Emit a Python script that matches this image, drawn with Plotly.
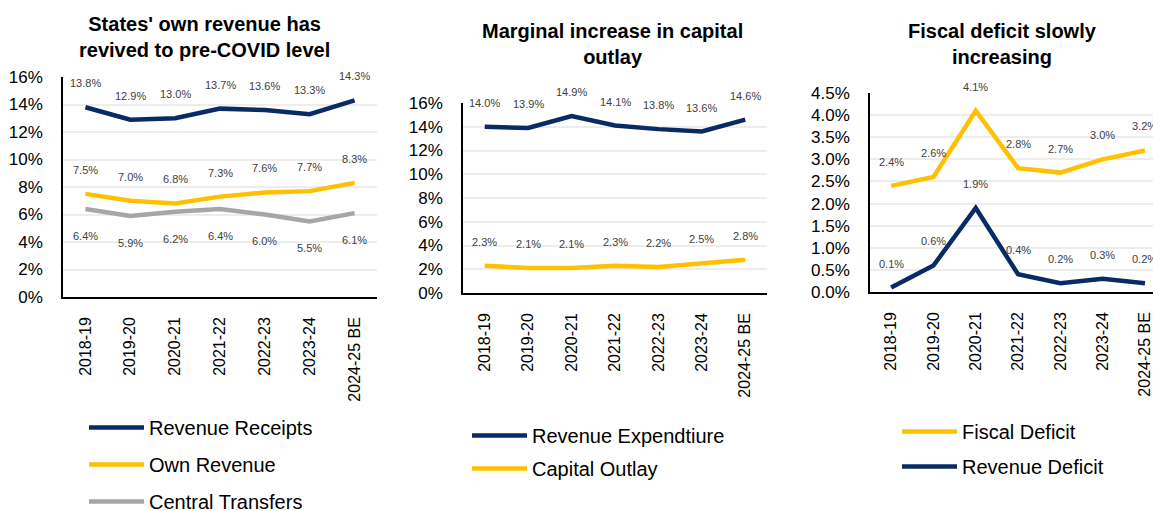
import plotly.graph_objects as go

years = ["2018-19", "2019-20", "2020-21", "2021-22", "2022-23", "2023-24", "2024-25 BE"]

# Panel 1 (% of GSDP)
revenue_receipts = [13.8, 12.9, 13.0, 13.7, 13.6, 13.3, 14.3]
own_revenue = [7.5, 7.0, 6.8, 7.3, 7.6, 7.7, 8.3]
central_transfers = [6.4, 5.9, 6.2, 6.4, 6.0, 5.5, 6.1]

# Panel 2
revenue_expenditure = [14.0, 13.9, 14.9, 14.1, 13.8, 13.6, 14.6]
capital_outlay = [2.3, 2.1, 2.1, 2.3, 2.2, 2.5, 2.8]

# Panel 3
fiscal_deficit = [2.4, 2.6, 4.1, 2.8, 2.7, 3.0, 3.2]
revenue_deficit = [0.1, 0.6, 1.9, 0.4, 0.2, 0.3, 0.2]

titles = [
    "States' own revenue has<br>revived to pre-COVID level",
    "Marginal increase in capital<br>outlay",
    "Fiscal deficit slowly<br>increasing",
]

NAVY = "#0A2A66"
GOLD = "#FFC000"
GREY = "#A6A6A6"
FONT = "Liberation Sans, Arial, sans-serif"
LABEL_COLOR = "#404040"

W, H = 1153, 511

fig = go.Figure()

panels = [
    ("x", "y", "legend", [
        ("Revenue Receipts", revenue_receipts, NAVY, "above"),
        ("Own Revenue", own_revenue, GOLD, "above"),
        ("Central Transfers", central_transfers, GREY, "below"),
    ]),
    ("x2", "y2", "legend2", [
        ("Revenue Expendtiure", revenue_expenditure, NAVY, "above"),
        ("Capital Outlay", capital_outlay, GOLD, "above"),
    ]),
    ("x3", "y3", "legend3", [
        ("Fiscal Deficit", fiscal_deficit, GOLD, "above"),
        ("Revenue Deficit", revenue_deficit, NAVY, "above"),
    ]),
]

annotations = []
for xa, ya, lg, series in panels:
    for name, vals, color, pos in series:
        fig.add_trace(go.Scatter(
            x=years, y=vals, name=name, mode="lines",
            line=dict(color=color, width=4.5),
            xaxis=xa, yaxis=ya, legend=lg, legendgroup=name,
            hoverinfo="skip",
        ))
        for yr, v in zip(years, vals):
            annotations.append(dict(
                x=yr, y=v, xref=xa, yref=ya, text=f"{v:.1f}%",
                showarrow=False, yshift=24 if pos == "above" else -27,
                font=dict(family=FONT, size=11, color=LABEL_COLOR),
            ))

def px_x(p):
    return p / W

def px_y(p):
    return 1 - p / H

axis_common = dict(
    showline=True, linecolor="black", linewidth=1.5,
    ticks="", showgrid=False, zeroline=False, automargin=False,
    ticklabeloverflow="allow",
    tickfont=dict(family=FONT, size=16, color="black"),
)
yaxis_common = dict(
    showline=True, linecolor="black", linewidth=1.5,
    ticks="", showgrid=True, gridcolor="#EDEDED", gridwidth=2,
    zeroline=False, automargin=False, ticklabeloverflow="allow",
    tickfont=dict(family=FONT, size=17, color="black"),
    ticksuffix="%", ticklabelstandoff=15,
)

layout = dict(
    width=W, height=H,
    margin=dict(l=0, r=0, t=0, b=0, autoexpand=False),
    paper_bgcolor="white", plot_bgcolor="white",
    showlegend=True,
    font=dict(family=FONT, color="black"),
    xaxis=dict(**axis_common, domain=[px_x(63), px_x(377)], anchor="y",
               tickangle=-90, range=[-0.5, 6.5], ticklabelstandoff=12),
    yaxis=dict(**yaxis_common, domain=[px_y(297), px_y(77)], anchor="x",
               range=[0, 16], dtick=2, tickformat=".0f"),
    xaxis2=dict(**axis_common, domain=[px_x(463), px_x(767)], anchor="y2",
                tickangle=-90, range=[-0.5, 6.5], ticklabelstandoff=12),
    yaxis2=dict(**yaxis_common, domain=[px_y(293), px_y(103)], anchor="x2",
                range=[0, 16], dtick=2, tickformat=".0f"),
    xaxis3=dict(**axis_common, domain=[px_x(870), 1.0], anchor="y3",
                tickangle=-90, range=[-0.5, 6.19], ticklabelstandoff=12),
    yaxis3=dict(**yaxis_common, domain=[px_y(292), px_y(93)], anchor="x3",
                range=[0, 4.5], dtick=0.5, tickformat=".1f"),
)

legend_common = dict(
    font=dict(family=FONT, size=20, color="black"),
    bgcolor="rgba(0,0,0,0)", xanchor="left", yanchor="top",
    itemclick=False, itemdoubleclick=False, itemwidth=55,
)
layout["legend"] = dict(**legend_common, x=px_x(109 - 25), y=px_y(408), tracegroupgap=8)
layout["legend2"] = dict(**legend_common, x=px_x(492 - 25), y=px_y(416), tracegroupgap=4)
layout["legend3"] = dict(**legend_common, x=px_x(922 - 25), y=px_y(412), tracegroupgap=6)

title_y = [(205, 23), (613, 30), (1002, 30)]
for (cx, cy), t in zip(title_y, titles):
    annotations.append(dict(
        x=px_x(cx), y=px_y(cy - 12), xref="paper", yref="paper",
        xanchor="center", yanchor="top", text=f"<b>{t}</b>", showarrow=False,
        font=dict(family=FONT, size=20, color="black"),
    ))

layout["annotations"] = annotations
fig.update_layout(**layout)

fig.write_html(
    "out.html",
    config={"displayModeBar": False},
    post_script="document.body.style.margin='0';document.body.style.overflow='hidden';",
)
